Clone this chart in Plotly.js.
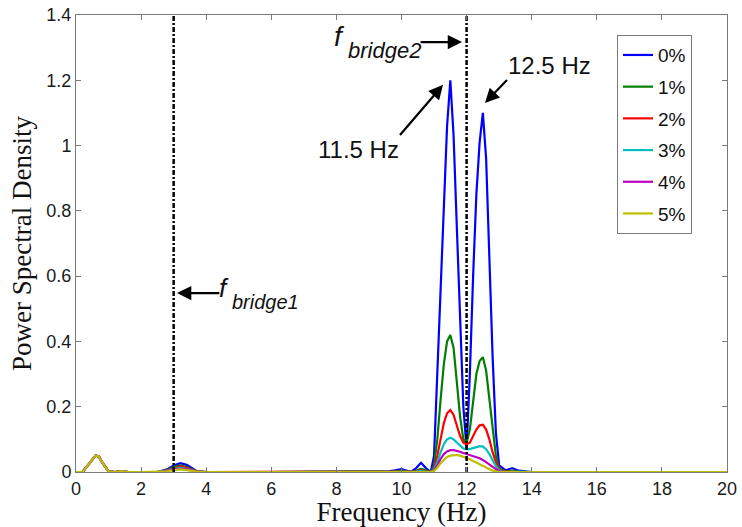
<!DOCTYPE html>
<html>
<head>
<meta charset="utf-8">
<script src="https://cdn.plot.ly/plotly-3.0.1.min.js"></script>
<style>html,body{margin:0;padding:0;background:#fff;}#chart{width:742px;height:527px;}</style>
</head>
<body>
<div id="chart"></div>
<script>
// Frequency grid (Hz)
const freq = [0, 0.2, 0.4, 0.6, 0.7, 0.8, 1.0, 1.2, 1.4, 1.6, 2.0,
  2.5, 2.8, 3.0, 3.2, 3.4, 3.7, 4.0,
  6, 8, 9, 9.6, 9.8, 10.0, 10.2, 10.3, 10.45, 10.6, 10.75, 10.9,
  11.0, 11.1, 11.2, 11.3, 11.4, 11.5, 11.6, 11.7, 11.8, 11.9, 12.0,
  12.1, 12.2, 12.3, 12.4, 12.5, 12.6, 12.7, 12.8, 12.9, 13.0,
  13.2, 13.4, 13.6, 14, 16, 18, 20];

const psd0 = [0, 0, 0.025, 0.05, 0.048, 0.03, 0.002, 0, 0.003, 0, 0,
  0, 0.008, 0.02, 0.027, 0.022, 0.003, 0,
  0, 0, 0.001, 0.002, 0.005, 0.009, 0.003, 0.001, 0.012, 0.028, 0.012, 0,
  0.05, 0.3, 0.58, 0.85, 1.06, 1.2, 1.03, 0.75, 0.45, 0.2, 0.07,
  0.3, 0.6, 0.85, 1.01, 1.1, 0.96, 0.65, 0.35, 0.12, 0.02,
  0.005, 0.012, 0.004, 0, 0, 0, 0];

const psd1 = [0, 0, 0.025, 0.05, 0.048, 0.03, 0.002, 0, 0.003, 0, 0,
  0, 0.006, 0.015, 0.02, 0.015, 0.002, 0,
  0, 0, 0, 0.001, 0.002, 0.004, 0.001, 0, 0.004, 0.01, 0.005, 0,
  0.02, 0.1, 0.22, 0.33, 0.4, 0.42, 0.38, 0.28, 0.17, 0.1, 0.09,
  0.13, 0.22, 0.3, 0.34, 0.352, 0.31, 0.22, 0.12, 0.05, 0.01,
  0.002, 0.004, 0.001, 0, 0, 0, 0];

const psd2 = [0, 0, 0.025, 0.05, 0.048, 0.03, 0.002, 0, 0.003, 0, 0,
  0, 0.005, 0.012, 0.017, 0.013, 0.002, 0,
  0, 0, 0, 0, 0.001, 0.002, 0.001, 0, 0.002, 0.005, 0.003, 0,
  0.01, 0.05, 0.1, 0.15, 0.18, 0.19, 0.175, 0.14, 0.11, 0.09, 0.085,
  0.09, 0.11, 0.13, 0.143, 0.145, 0.13, 0.1, 0.06, 0.03, 0.008,
  0.001, 0.002, 0, 0, 0, 0, 0];

const psd3 = [0, 0, 0.025, 0.05, 0.048, 0.03, 0.002, 0, 0.003, 0, 0,
  0, 0.004, 0.01, 0.013, 0.01, 0.001, 0,
  0, 0, 0, 0, 0, 0.001, 0, 0, 0.001, 0.003, 0.001, 0,
  0.008, 0.03, 0.06, 0.085, 0.1, 0.105, 0.1, 0.09, 0.08, 0.072, 0.07,
  0.07, 0.073, 0.077, 0.079, 0.078, 0.07, 0.055, 0.035, 0.018, 0.005,
  0, 0.001, 0, 0, 0, 0, 0];

const psd4 = [0, 0, 0.025, 0.05, 0.048, 0.03, 0.002, 0, 0.003, 0, 0,
  0, 0.003, 0.008, 0.01, 0.008, 0.001, 0,
  0, 0, 0, 0, 0, 0, 0, 0, 0, 0.002, 0, 0,
  0.005, 0.02, 0.04, 0.055, 0.063, 0.067, 0.067, 0.065, 0.062, 0.058, 0.055,
  0.052, 0.05, 0.046, 0.042, 0.037, 0.03, 0.022, 0.014, 0.007, 0.002,
  0, 0, 0, 0, 0, 0, 0];

const psd5 = [0, 0, 0.025, 0.05, 0.048, 0.03, 0.002, 0, 0.003, 0, 0,
  0, 0.002, 0.006, 0.008, 0.006, 0.001, 0,
  0, 0, 0, 0, 0, 0, 0, 0, 0, 0.001, 0, 0,
  0.003, 0.013, 0.027, 0.038, 0.046, 0.05, 0.052, 0.052, 0.05, 0.047, 0.043,
  0.039, 0.034, 0.029, 0.023, 0.018, 0.013, 0.008, 0.004, 0.002, 0,
  0, 0, 0, 0, 0, 0, 0];

const seriesNames = ['0%', '1%', '2%', '3%', '4%', '5%'];
const seriesValues = [psd0, psd1, psd2, psd3, psd4, psd5];
const seriesColors = ['#0000ff', '#007f00', '#ff0000', '#00bfbf', '#bf00bf', '#bfbf00'];

const bridgeFreqs = [3, 12];
const yRange = [0, 1.4];

const traces = seriesNames.map((n, i) => ({
  x: freq, y: seriesValues[i], name: n, type: 'scatter', mode: 'lines',
  line: {color: seriesColors[i], width: 2.2}, legendgroup: 'g' + i
}));

bridgeFreqs.forEach(f => {
  traces.push({
    x: [f, f], y: yRange, mode: 'lines', showlegend: false, hoverinfo: 'skip',
    line: {color: '#000', width: 2.5, dash: '5px,2px,2px,2px'}
  });
});

const axisCommon = {
  showline: true, linecolor: '#7a7a7a', linewidth: 1, mirror: 'ticks',
  ticks: 'inside', ticklen: 5, tickcolor: '#7a7a7a', showgrid: false, zeroline: false,
  tickfont: {family: 'Liberation Sans, Arial, sans-serif', size: 18, color: '#1a1a1a'}
};

const annFont = {family: 'Liberation Sans, Arial, sans-serif', size: 24, color: '#111'};
const itFont = (s) => ({family: 'Liberation Sans, Arial, sans-serif', size: s, color: '#111'});
const arrowStyle = {showarrow: true, arrowhead: 2, arrowsize: 1.3, arrowwidth: 2.2, arrowcolor: '#000',
  xref: 'x', yref: 'y', axref: 'x', ayref: 'y', borderpad: 0};
const textStyle = {showarrow: false, xref: 'x', yref: 'y', borderpad: 0};

const layout = {
  width: 742, height: 527,
  margin: {l: 76, r: 15, t: 15, b: 55},
  paper_bgcolor: '#fff', plot_bgcolor: '#fff',
  xaxis: Object.assign({}, axisCommon, {
    range: [0, 20], tickvals: [0,2,4,6,8,10,12,14,16,18,20],
    title: {text: 'Frequency (Hz)', standoff: 4,
      font: {family: 'Liberation Serif, Times New Roman, serif', size: 27, color: '#111'}}
  }),
  yaxis: Object.assign({}, axisCommon, {
    range: yRange, tickvals: [0,0.2,0.4,0.6,0.8,1,1.2,1.4],
    ticktext: ['0','0.2','0.4','0.6','0.8','1','1.2','1.4'],
    title: {text: 'Power Spectral Density', standoff: 6,
      font: {family: 'Liberation Serif, Times New Roman, serif', size: 27, color: '#111'}}
  }),
  legend: {
    x: 0.831, y: 0.956, xanchor: 'left', yanchor: 'top',
    bgcolor: '#fff', bordercolor: '#7a7a7a', borderwidth: 1,
    font: {family: 'Liberation Sans, Arial, sans-serif', size: 19, color: '#111'},
    traceorder: 'grouped', tracegroupgap: 4, itemwidth: 30
  },
  showlegend: true,
  annotations: [
    Object.assign({}, arrowStyle, {x: 12.565, y: 1.1305, ax: 13.24, ay: 1.201,
      text: '12.5 Hz', font: annFont, xanchor: 'left', yanchor: 'bottom'}),
    Object.assign({}, arrowStyle, {x: 11.275, y: 1.186, ax: 9.954, ay: 1.0325,
      text: '11.5 Hz', font: annFont, xanchor: 'right', yanchor: 'top'}),
    // f_bridge2 pointer
    Object.assign({}, arrowStyle, {x: 11.86, y: 1.317, ax: 10.57, ay: 1.317, text: ''}),
    Object.assign({}, textStyle, {x: 8.295, y: 1.334, text: '<i>f</i>', font: itFont(28), xanchor: 'right'}),
    Object.assign({}, textStyle, {x: 8.326, y: 1.29, text: '<i>bridge2</i>', font: itFont(22), xanchor: 'left'}),
    // f_bridge1 pointer
    Object.assign({}, arrowStyle, {x: 3.103, y: 0.548, ax: 4.42, ay: 0.548, text: ''}),
    Object.assign({}, textStyle, {x: 4.731, y: 0.565, text: '<i>f</i>', font: itFont(26), xanchor: 'right'}),
    Object.assign({}, textStyle, {x: 4.762, y: 0.52, text: '<i>bridge1</i>', font: itFont(20), xanchor: 'left'})
  ]
};

Plotly.newPlot('chart', traces, layout, {displayModeBar: false, staticPlot: true});
</script>
</body>
</html>
